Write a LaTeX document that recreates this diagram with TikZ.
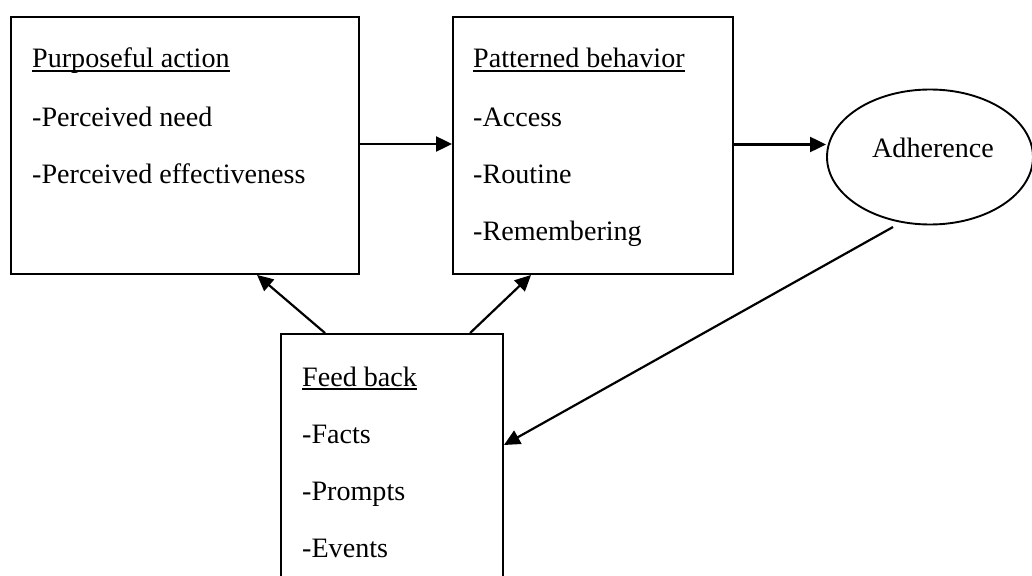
\documentclass[tikz,border=0pt]{standalone}
\usepackage{fontspec}
\setmainfont{Liberation Serif}
\usetikzlibrary{arrows.meta,shapes.geometric,calc}
\tikzset{
  box/.style={draw, line width=1.9pt, rectangle, inner sep=0pt},
  oval/.style={draw, line width=1.9pt, ellipse, inner sep=0pt, minimum width=206pt, minimum height=135pt},
  txt/.style={anchor=base west, inner sep=0pt, font=\fontsize{28.1}{33}\selectfont},
  ctxt/.style={anchor=base, inner sep=0pt, font=\fontsize{28.1}{33}\selectfont},
  arr/.style={line width=2.2pt, -{Triangle[length=16pt,width=15pt]}},
  ulline/.style={line width=1.3pt}
}
\begin{document}
\begin{tikzpicture}[x=1pt,y=-1pt]
\useasboundingbox (0,0) rectangle (1032,575);
% boxes
\node[box, minimum width=348pt, minimum height=257pt] (b1) at (185,145.5) {};
\node[box, minimum width=280pt, minimum height=257pt] (b2) at (593,145.5) {};
\node[box, minimum width=222pt, minimum height=280pt] (b3) at (392,474) {};
\node[oval] (adh) at (930,157) {};
\node[ctxt] (adht) at (933,157) {Adherence};
% texts box 1
\node[txt] (h1) at (32,68) {Purposeful action};
\node[txt] (l11) at (32,126) {-Perceived need};
\node[txt] (l12) at (32,183) {-Perceived effectiveness};
% texts box 2
\node[txt] (h2) at (473,68) {Patterned behavior};
\node[txt] (l21) at (473,126) {-Access};
\node[txt] (l22) at (473,183) {-Routine};
\node[txt] (l23) at (473,240) {-Remembering};
% texts box 3
\node[txt] (h3) at (302,386) {Feed back};
\node[txt] (l31) at (302,443) {-Facts};
\node[txt] (l32) at (302,500) {-Prompts};
\node[txt] (l33) at (302,557) {-Events};
% underlines
\draw[ulline] ([yshift=-3pt]h1.base west) -- ([yshift=-3pt]h1.base east);
\draw[ulline] ([yshift=-3pt]h2.base west) -- ([yshift=-3pt]h2.base east);
\draw[ulline] ([yshift=-3pt]h3.base west) -- ([yshift=-3pt]h3.base east);
% connectors
\draw[arr] ($(b1.east)+(0,-1.5)$) -- ($(b2.west)+(0,-1.5)$);
\draw[arr] ($(b2.east)+(0,-1)$) -- (adh.west |- 0,144.5);
\draw[arr] ($(b3.north west)+(45,0)$) -- ($(b1.south west)+(247,0)$);
\draw[arr] ($(b3.north west)+(190,0)$) -- ($(b2.south west)+(79,0)$);
\coordinate (adhout) at (893,227);
\draw[arr] (adhout) -- ($(b3.east)+(0,-29)$);
\end{tikzpicture}
\end{document}
